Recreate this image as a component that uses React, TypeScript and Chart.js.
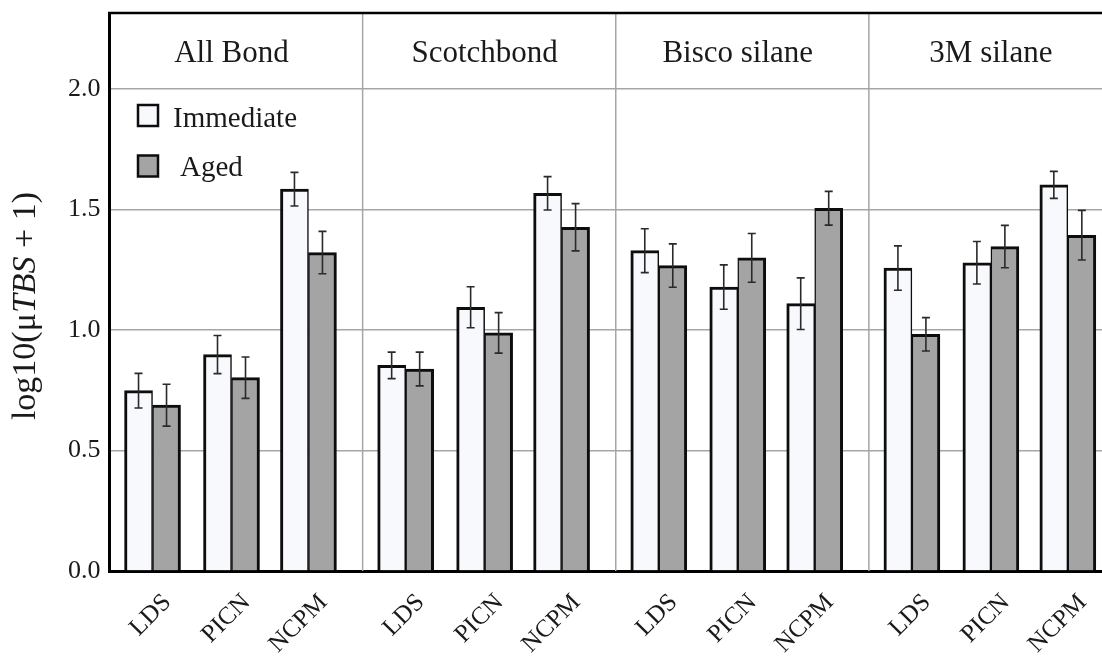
import React, { useEffect, useRef } from "react";
import { Chart, registerables } from "chart.js";

Chart.register(...registerables);

// ---- data ----
const panels = ["All Bond", "Scotchbond", "Bisco silane", "3M silane"];
const materials = ["LDS", "PICN", "NCPM"];
const seriesNames = ["Immediate", "Aged"];
// values ordered panel by panel, material by material (LDS, PICN, NCPM)
const immediateMeans = [0.748, 0.898, 1.584, 0.853, 1.094, 1.567, 1.329, 1.178, 1.109, 1.257, 1.279, 1.602];
const immediateErrors = [0.072, 0.079, 0.07, 0.055, 0.085, 0.069, 0.091, 0.092, 0.107, 0.092, 0.088, 0.056];
const agedMeans = [0.688, 0.802, 1.321, 0.838, 0.988, 1.426, 1.267, 1.299, 1.505, 0.982, 1.346, 1.393];
const agedErrors = [0.087, 0.086, 0.088, 0.07, 0.084, 0.098, 0.09, 0.101, 0.07, 0.069, 0.088, 0.103];
const yTicks = [0, 0.5, 1.0, 1.5, 2.0];

// ---- layout / style ----
const Y_MAX = 2.315;
const IN_PANEL = [0.17, 0.482, 0.786];
const SERIF = "'Liberation Serif', 'Times New Roman', serif";
const GRID = "#a6a6a6";
const TEXT = "#1a1a1a";
const FILLS = ["#f8f9fc", "#a4a4a4"];
const EDGE = "#0d0d0d";

const xPositions: number[] = [];
panels.forEach((_, p) => materials.forEach((_, g) => xPositions.push(p + IN_PANEL[g])));

const seriesMeans = [immediateMeans, agedMeans];
const seriesErrors = [immediateErrors, agedErrors];

const decorPlugin = {
  id: "decor",
  beforeDatasetsDraw(chart: any) {
    const { ctx, chartArea: a, scales } = chart;
    ctx.save();
    ctx.strokeStyle = GRID;
    ctx.lineWidth = 1.5;
    for (let p = 1; p < panels.length; p++) {
      const px = scales.x.getPixelForValue(p);
      ctx.beginPath();
      ctx.moveTo(px, a.top);
      ctx.lineTo(px, a.bottom);
      ctx.stroke();
    }
    ctx.restore();
  },
  afterDatasetsDraw(chart: any) {
    const { ctx, scales } = chart;
    const ys = scales.y;
    ctx.save();
    ctx.strokeStyle = "#2a2a2a";
    ctx.lineWidth = 1.6;
    seriesMeans.forEach((means, i) => {
      const meta = chart.getDatasetMeta(i);
      meta.data.forEach((bar: any, j: number) => {
        const m = means[j];
        const e = seriesErrors[i][j];
        const x = bar.x;
        const yt = ys.getPixelForValue(m + e);
        const yb = ys.getPixelForValue(m - e);
        ctx.beginPath();
        ctx.moveTo(x, yt);
        ctx.lineTo(x, yb);
        ctx.moveTo(x - 4, yt);
        ctx.lineTo(x + 4, yt);
        ctx.moveTo(x - 4, yb);
        ctx.lineTo(x + 4, yb);
        ctx.stroke();
      });
    });
    ctx.restore();
  },
  afterDraw(chart: any) {
    const { ctx, chartArea: a, scales } = chart;
    ctx.save();
    // top frame line
    ctx.strokeStyle = "#000";
    ctx.lineWidth = 2.5;
    ctx.beginPath();
    ctx.moveTo(a.left - 1.5, a.top);
    ctx.lineTo(chart.width, a.top);
    ctx.stroke();

    // panel labels
    ctx.fillStyle = TEXT;
    ctx.font = `31px ${SERIF}`;
    ctx.textAlign = "center";
    ctx.textBaseline = "alphabetic";
    panels.forEach((name, p) => {
      ctx.fillText(name, scales.x.getPixelForValue(p + IN_PANEL[1]), 62);
    });

    // legend
    const boxes = [
      { y: 105, ty: 127, tx: 173 },
      { y: 155.5, ty: 176, tx: 180 },
    ];
    ctx.font = `29px ${SERIF}`;
    ctx.textAlign = "left";
    seriesNames.forEach((name, i) => {
      const b = boxes[i];
      ctx.fillStyle = FILLS[i];
      ctx.fillRect(138, b.y, 20, 21);
      ctx.strokeStyle = EDGE;
      ctx.lineWidth = 2.5;
      ctx.strokeRect(138, b.y, 20, 21);
      ctx.fillStyle = TEXT;
      ctx.fillText(name, b.tx, b.ty);
    });

    // y-axis title with italic TBS
    const parts = [
      { t: "log10(\u03bc", f: `34px ${SERIF}` },
      { t: "TBS", f: `italic 34px ${SERIF}` },
      { t: " + 1)", f: `34px ${SERIF}` },
    ];
    let total = 0;
    const widths = parts.map((p) => {
      ctx.font = p.f;
      const w = ctx.measureText(p.t).width;
      total += w;
      return w;
    });
    ctx.translate(35, 306);
    ctx.rotate(-Math.PI / 2);
    let cx = -total / 2;
    ctx.textAlign = "left";
    ctx.textBaseline = "alphabetic";
    parts.forEach((p, i) => {
      ctx.font = p.f;
      ctx.fillText(p.t, cx, 0);
      cx += widths[i];
    });
    ctx.restore();
  },
};

export default function App() {
  const ref = useRef<HTMLCanvasElement | null>(null);

  useEffect(() => {
    if (!ref.current) return;
    const datasets = seriesNames.map((name, i) => ({
      label: name,
      data: seriesMeans[i].map((v, j) => ({ x: xPositions[j], y: v })),
      backgroundColor: FILLS[i],
      borderColor: EDGE,
      borderWidth: i === 0 ? { top: 3, left: 3, right: 1.5, bottom: 0 } : { top: 3, left: 1.5, right: 3, bottom: 0 },
      borderSkipped: "start" as const,
      barThickness: 28,
    }));

    const chart = new Chart(ref.current, {
      type: "bar",
      data: { datasets },
      plugins: [decorPlugin],
      options: {
        responsive: false,
        animation: false,
        devicePixelRatio: 1,
        layout: { padding: { top: 13, left: 0, right: 18, bottom: 0 } },
        plugins: { legend: { display: false }, tooltip: { enabled: false } },
        scales: {
          x: {
            type: "linear",
            min: 0,
            max: panels.length,
            offset: false,
            afterBuildTicks: (scale: any) => {
              scale.ticks = xPositions.map((v) => ({ value: v }));
            },
            afterFit: (scale: any) => {
              scale.height = 88;
              scale.paddingLeft = 0;
              scale.paddingRight = 0;
            },
            grid: { display: false, drawTicks: false },
            border: { display: true, color: "#000", width: 3 },
            ticks: {
              autoSkip: false,
              minRotation: 45,
              maxRotation: 45,
              labelOffset: 15,
              padding: 17,
              color: TEXT,
              font: { family: SERIF, size: 25 },
              callback: (_v: any, index: number) => materials[index % materials.length],
            },
          },
          y: {
            min: 0,
            max: Y_MAX,
            afterBuildTicks: (scale: any) => {
              scale.ticks = yTicks.map((v) => ({ value: v }));
            },
            afterFit: (scale: any) => {
              scale.width = 109.5;
              scale.paddingTop = 0;
              scale.paddingBottom = 0;
            },
            grid: { color: GRID, lineWidth: 1.5, drawTicks: false },
            border: { display: true, color: "#000", width: 3 },
            ticks: {
              padding: 9,
              color: TEXT,
              font: { family: SERIF, size: 26 },
              callback: (v: any) => Number(v).toFixed(1),
            },
          },
        },
      },
    });
    return () => chart.destroy();
  }, []);

  return (
    <div
      style={{
        position: "fixed",
        left: 0,
        top: 0,
        width: 1102,
        height: 659,
        overflow: "hidden",
        background: "#fff",
      }}
    >
      <canvas ref={ref} width={1140} height={659} style={{ width: 1140, height: 659, display: "block" }} />
    </div>
  );
}
